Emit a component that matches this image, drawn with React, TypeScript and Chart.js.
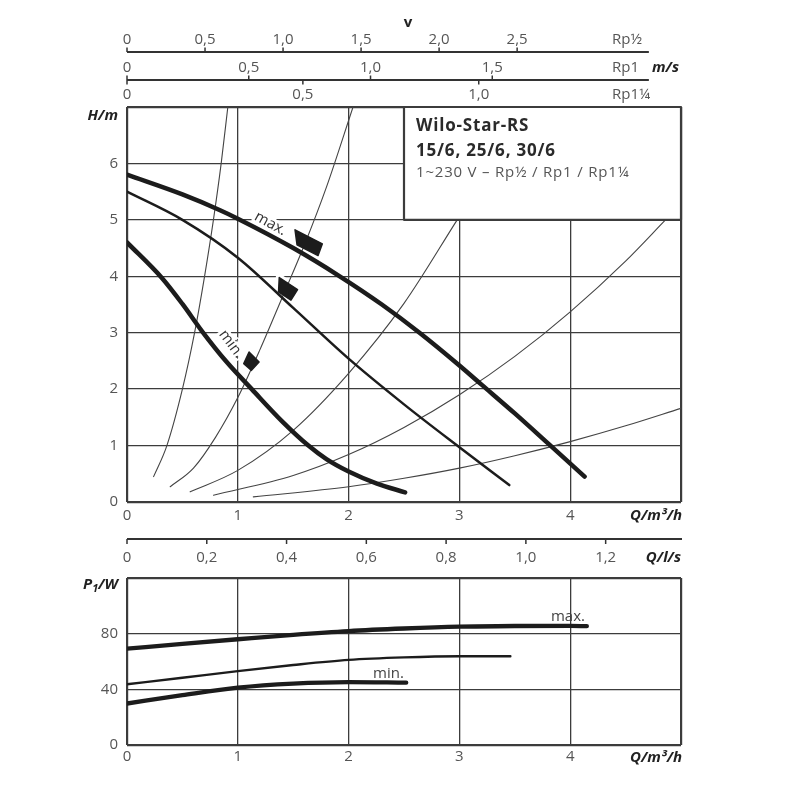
import { useEffect, useRef } from 'react';
import { Chart, registerables } from 'chart.js';

Chart.register(...registerables);

const FONT = '"Open Sans", "Noto Sans", "DejaVu Sans", sans-serif';

// ---------- axes / ticks ----------
const flowGrid = [0, 1, 2, 3, 4, 5];
const flowLabels = [0, 1, 2, 3, 4];
const headGrid = [0, 1, 2, 3, 4, 5, 6, 7];
const headLabels = [0, 1, 2, 3, 4, 5, 6];
const powerGrid = [0, 40, 80, 120];
const powerLabels = [0, 40, 80];

const pipeNames = ['Rp½', 'Rp1', 'Rp1¼'];
const velocityPerFlow = [0.71, 0.455, 0.315]; // m/s per m³/h
const velTicksRp12 = [0, 0.5, 1.0, 1.5, 2.0, 2.5];
const velTicksRp1 = [0, 0.5, 1.0, 1.5];
const velTicksRp114 = [0, 0.5, 1.0];
const velocityRulerEndFlow = 4.71;
const litresPerSecondTicks = [0, 0.2, 0.4, 0.6, 0.8, 1.0, 1.2];
const m3hPerLs = 3.6;

// ---------- H(Q) pump curves [Q m³/h, H m] ----------
const headMaxCurve = [[0, 5.8], [0.5, 5.45], [0.84, 5.17], [1.0, 5.02], [1.5, 4.5], [1.92, 4.0], [2.3, 3.5], [2.64, 3.0], [3.0, 2.42], [3.2, 2.08], [3.5, 1.57], [3.81, 1.02], [4.13, 0.45]];
const headMidCurve = [[0, 5.5], [0.5, 5.0], [1.0, 4.33], [1.5, 3.44], [2.0, 2.54], [2.5, 1.73], [3.0, 0.97], [3.45, 0.3]];
const headMinCurve = [[0, 4.6], [0.315, 3.97], [0.5, 3.51], [0.676, 3.03], [0.9, 2.48], [1.126, 2.0], [1.4, 1.43], [1.637, 1.0], [1.8, 0.76], [2.0, 0.54], [2.25, 0.33], [2.51, 0.17]];

// ---------- system curves ----------
const systemCurve1 = [[0.24, 0.45], [0.36, 1.0], [0.5, 2.0], [0.61, 3.0], [0.7, 4.0], [0.78, 5.0], [0.85, 6.0], [0.91, 7.0]];
const systemCurve2 = [[0.39, 0.27], [0.6, 0.6], [0.8, 1.15], [1.0, 1.85], [1.2, 2.7], [1.4, 3.62], [1.6, 4.55], [1.8, 5.58], [2.04, 7.0]];
const systemCurve3 = [[0.57, 0.18], [1.0, 0.56], [1.5, 1.27], [2.0, 2.28], [2.5, 3.52], [2.98, 5.0]];
const systemCurve4 = [[0.78, 0.12], [1.5, 0.47], [2.0, 0.84], [2.5, 1.32], [3.0, 1.9], [3.5, 2.58], [4.0, 3.37], [4.5, 4.27], [4.86, 5.0]];
const systemCurve5 = [[1.14, 0.09], [2.0, 0.27], [2.5, 0.42], [3.0, 0.6], [3.5, 0.82], [4.0, 1.07], [4.5, 1.35], [5.0, 1.66]];

// speed markers [Q, H]
const speedMarkers = [[1.634, 4.58], [1.44, 3.76], [1.117, 2.48]];
const headCurveNames = [
  { text: 'max.', q: 1.295, h: 4.93, angle: 29 },
  { text: 'min.', q: 0.94, h: 2.8, angle: 53 },
];

// title box
const titleLines = ['Wilo-Star-RS', '15/6, 25/6, 30/6', '1~230 V – Rp½ / Rp1 / Rp1¼'];
const titleBoxFrom = [2.5, 5]; // Q, H of the lower-left corner

// ---------- P1(Q) [Q m³/h, P W] ----------
const powerMaxCurve = [[0, 69.2], [0.5, 72.7], [1, 76], [1.5, 79.2], [2, 81.9], [2.5, 83.7], [3, 85], [3.5, 85.5], [4, 85.6], [4.15, 85.4]];
const powerMidCurve = [[0, 43.6], [0.5, 48.3], [1, 53.1], [1.5, 57.5], [2, 61.2], [2.5, 63], [3, 63.8], [3.46, 63.8]];
const powerMinCurve = [[0, 29.8], [0.5, 35.8], [1, 41.2], [1.5, 44.1], [2, 45.2], [2.52, 44.8]];
const powerCurveNames = [
  { text: 'max.', q: 3.98, p: 92.4 },
  { text: 'min.', q: 2.36, p: 51.2 },
];

// ---------- styles ----------
const INK = '#1c1c1c';
const GRID = '#3c3c3c';
const TICK_COLOR = '#555';
const TITLE_COLOR = '#222';
const markerShapes = [
  [[-13, -13.7], [14.3, 0.3], [10, 12], [-11, 1.3]],
  [[-7.3, -12.3], [11, -0.3], [4.4, 10.4], [-8, 2.1]],
  [[-1.7, -10], [8.3, 0], [0.7, 8.3], [-7, 1.6]],
];

const toPts = (arr: number[][]) => arr.map(([x, y]) => ({ x, y }));
const fmt = (v: number) => (v === 0 ? '0' : v.toFixed(1).replace('.', ','));

function xAxis(height: number, padding: number) {
  return {
    type: 'linear',
    min: 0,
    max: 5,
    position: 'bottom',
    afterBuildTicks: (s: any) => {
      s.ticks = flowGrid.map((v) => ({ value: v }));
    },
    afterFit: (s: any) => {
      s.height = height;
    },
    ticks: {
      autoSkip: false,
      maxRotation: 0,
      padding,
      color: TICK_COLOR,
      font: { family: FONT, size: 15 },
      callback: (v: number) => (flowLabels.includes(v) ? String(v) : ''),
    },
    grid: {
      drawTicks: false,
      color: GRID,
      lineWidth: (c: any) => (c.tick && (c.tick.value === 0 || c.tick.value === 5) ? 2.2 : 1.3),
    },
    border: { display: false },
  };
}

function yAxis(grid: number[], labels: number[], width: number) {
  const top = grid[grid.length - 1];
  return {
    type: 'linear',
    min: 0,
    max: top,
    position: 'left',
    afterBuildTicks: (s: any) => {
      s.ticks = grid.map((v) => ({ value: v }));
    },
    afterFit: (s: any) => {
      s.width = width;
    },
    ticks: {
      autoSkip: false,
      padding: 9,
      color: TICK_COLOR,
      font: { family: FONT, size: 15 },
      callback: (v: number) => (labels.includes(v) ? String(v) : ''),
    },
    grid: {
      drawTicks: false,
      color: GRID,
      lineWidth: (c: any) => (c.tick && (c.tick.value === 0 || c.tick.value === top) ? 2.2 : 1.3),
    },
    border: { display: false },
  };
}

function line(data: number[][], width: number, color = INK) {
  return {
    data: toPts(data),
    borderColor: color,
    borderWidth: width,
    pointRadius: 0,
    fill: false,
    cubicInterpolationMode: 'monotone',
    borderCapStyle: 'round',
    borderJoinStyle: 'round',
  };
}

function drawText(ctx: CanvasRenderingContext2D, text: string, x: number, y: number, font: string, color: string, align: CanvasTextAlign = 'left', spacing = 0) {
  ctx.font = font;
  ctx.fillStyle = color;
  ctx.textAlign = align;
  ctx.textBaseline = 'middle';
  (ctx as any).letterSpacing = `${spacing}px`;
  ctx.fillText(text, x, y);
  (ctx as any).letterSpacing = '0px';
}

const topDecor = {
  id: 'topDecor',
  beforeDatasetsDraw(chart: any) {
    const { ctx, scales } = chart;
    const { x, y } = scales;
    ctx.save();
    for (const l of headCurveNames) {
      ctx.save();
      ctx.translate(x.getPixelForValue(l.q), y.getPixelForValue(l.h));
      ctx.rotate((l.angle * Math.PI) / 180);
      ctx.font = `15px ${FONT}`;
      ctx.textAlign = 'center';
      ctx.textBaseline = 'middle';
      ctx.lineWidth = 6;
      ctx.strokeStyle = '#fff';
      ctx.lineJoin = 'round';
      ctx.strokeText(l.text, 0, 0);
      ctx.fillStyle = '#333';
      ctx.fillText(l.text, 0, 0);
      ctx.restore();
    }
    speedMarkers.forEach(([q, h], i) => {
      const cx = x.getPixelForValue(q);
      const cy = y.getPixelForValue(h);
      ctx.beginPath();
      markerShapes[i].forEach(([dx, dy], k) => (k ? ctx.lineTo(cx + dx, cy + dy) : ctx.moveTo(cx + dx, cy + dy)));
      ctx.closePath();
      ctx.lineWidth = 7;
      ctx.strokeStyle = '#fff';
      ctx.lineJoin = 'round';
      ctx.stroke();
    });
    ctx.restore();
  },
  afterDatasetsDraw(chart: any) {
    const { ctx, scales, chartArea } = chart;
    const { x, y } = scales;
    ctx.save();
    speedMarkers.forEach(([q, h], i) => {
      const cx = x.getPixelForValue(q);
      const cy = y.getPixelForValue(h);
      ctx.beginPath();
      markerShapes[i].forEach(([dx, dy], k) => (k ? ctx.lineTo(cx + dx, cy + dy) : ctx.moveTo(cx + dx, cy + dy)));
      ctx.closePath();
      ctx.fillStyle = INK;
      ctx.lineJoin = 'round';
      ctx.lineWidth = 1.5;
      ctx.strokeStyle = INK;
      ctx.fill();
      ctx.stroke();
    });
    const bl = x.getPixelForValue(titleBoxFrom[0]);
    const bb = y.getPixelForValue(titleBoxFrom[1]);
    const br = chartArea.right;
    const bt = chartArea.top;
    ctx.fillStyle = '#fff';
    ctx.fillRect(bl, bt, br - bl, bb - bt);
    ctx.lineWidth = 2.2;
    ctx.strokeStyle = GRID;
    ctx.strokeRect(bl, bt, br - bl, bb - bt);
    drawText(ctx, titleLines[0], bl + 12, bt + 19, `bold 17px ${FONT}`, '#2a2a2a', 'left', 0.8);
    drawText(ctx, titleLines[1], bl + 12, bt + 44, `bold 17px ${FONT}`, '#2a2a2a', 'left', 0.8);
    drawText(ctx, titleLines[2], bl + 12, bt + 66, `15px ${FONT}`, '#555', 'left', 0.8);
    ctx.restore();
  },
  afterDraw(chart: any) {
    const { ctx, scales, chartArea } = chart;
    const { x } = scales;
    ctx.save();
    const lineEnd = x.getPixelForValue(velocityRulerEndFlow);
    const rowY = [52, 80, chartArea.top];
    const rows = [
      { s: scales.v1, ticks: velTicksRp12 },
      { s: scales.v2, ticks: velTicksRp1 },
      { s: scales.v3, ticks: velTicksRp114 },
    ];
    ctx.strokeStyle = '#333';
    rows.forEach((r, i) => {
      const ly = rowY[i];
      if (i < 2) {
        ctx.lineWidth = 2;
        ctx.beginPath();
        ctx.moveTo(r.s.getPixelForValue(0), ly);
        ctx.lineTo(lineEnd, ly);
        ctx.stroke();
      }
      ctx.lineWidth = 1.5;
      r.ticks.forEach((v) => {
        const px = r.s.getPixelForValue(v);
        ctx.beginPath();
        if (i < 2) {
          ctx.moveTo(px, ly);
          ctx.lineTo(px, ly - 4.5);
        } else {
          ctx.moveTo(px, rowY[1]);
          ctx.lineTo(px, rowY[1] + 4.5);
        }
        ctx.stroke();
        drawText(ctx, fmt(v), px, ly - 12.5, `15px ${FONT}`, TICK_COLOR, 'center');
      });
      drawText(ctx, pipeNames[i], 612, ly - 12.5, `15px ${FONT}`, TICK_COLOR, 'left');
    });
    drawText(ctx, 'v', 408, 23, `bold 15px ${FONT}`, TITLE_COLOR, 'center');
    drawText(ctx, 'm/s', 652, 67.5, `italic bold 15px ${FONT}`, TITLE_COLOR, 'left');

    const ql = scales.ql;
    const qy = 539;
    ctx.lineWidth = 2;
    ctx.beginPath();
    ctx.moveTo(ql.getPixelForValue(0), qy);
    ctx.lineTo(chartArea.right + 1, qy);
    ctx.stroke();
    ctx.lineWidth = 1.5;
    litresPerSecondTicks.forEach((v) => {
      const px = ql.getPixelForValue(v);
      ctx.beginPath();
      ctx.moveTo(px, qy);
      ctx.lineTo(px, qy + 5);
      ctx.stroke();
      drawText(ctx, fmt(v), px, qy + 19, `15px ${FONT}`, TICK_COLOR, 'center');
    });
    drawText(ctx, 'Q/l/s', chartArea.right, qy + 19, `italic bold 15px ${FONT}`, TITLE_COLOR, 'right');
    drawText(ctx, 'Q/m³/h', chartArea.right + 1, 516, `italic bold 15px ${FONT}`, TITLE_COLOR, 'right');
    drawText(ctx, 'H/m', 118, 116, `italic bold 15px ${FONT}`, TITLE_COLOR, 'right');
    ctx.restore();
  },
};

const bottomDecor = {
  id: 'bottomDecor',
  afterDraw(chart: any) {
    const { ctx, scales, chartArea } = chart;
    const { x, y } = scales;
    ctx.save();
    for (const l of powerCurveNames) {
      drawText(ctx, l.text, x.getPixelForValue(l.q), y.getPixelForValue(l.p), `15px ${FONT}`, '#444', 'center');
    }
    drawText(ctx, 'Q/m³/h', chartArea.right + 1, 198, `italic bold 15px ${FONT}`, TITLE_COLOR, 'right');
    const big = `italic bold 15px ${FONT}`;
    const small = `italic bold 11px ${FONT}`;
    ctx.font = big;
    const wP = ctx.measureText('P').width;
    const wW = ctx.measureText('/W').width;
    ctx.font = small;
    const w1 = ctx.measureText('1').width;
    const right = 118;
    const start = right - (wP + w1 + wW);
    const ly = 25;
    drawText(ctx, 'P', start, ly, big, TITLE_COLOR, 'left');
    drawText(ctx, '1', start + wP, ly + 4, small, TITLE_COLOR, 'left');
    drawText(ctx, '/W', start + wP + w1, ly, big, TITLE_COLOR, 'left');
    ctx.restore();
  },
};

export default function App() {
  const topRef = useRef<HTMLCanvasElement>(null);
  const botRef = useRef<HTMLCanvasElement>(null);

  useEffect(() => {
    const top = new Chart(topRef.current as HTMLCanvasElement, {
      type: 'line',
      data: {
        datasets: [
          line(headMaxCurve, 4.5),
          line(headMidCurve, 2.5),
          line(headMinCurve, 4.5),
          line(systemCurve1, 1.1, '#444'),
          line(systemCurve2, 1.1, '#444'),
          line(systemCurve3, 1.1, '#444'),
          line(systemCurve4, 1.1, '#444'),
          line(systemCurve5, 1.1, '#444'),
        ] as any,
      },
      options: {
        animation: false,
        responsive: false,
        maintainAspectRatio: false,
        events: [],
        layout: { padding: { left: 0, right: 119, top: 107, bottom: 33 } },
        plugins: { legend: { display: false }, tooltip: { enabled: false } },
        scales: {
          x: xAxis(30, 5),
          y: yAxis(headGrid, headLabels, 127),
          v1: { type: 'linear', display: false, min: 0, max: 5 * velocityPerFlow[0], position: 'top' },
          v2: { type: 'linear', display: false, min: 0, max: 5 * velocityPerFlow[1], position: 'top' },
          v3: { type: 'linear', display: false, min: 0, max: 5 * velocityPerFlow[2], position: 'top' },
          ql: { type: 'linear', display: false, min: 0, max: 5 / m3hPerLs, position: 'top' },
        } as any,
      },
      plugins: [topDecor],
    } as any);

    const bottom = new Chart(botRef.current as HTMLCanvasElement, {
      type: 'line',
      data: {
        datasets: [
          line(powerMaxCurve, 4.3),
          line(powerMidCurve, 2.4),
          line(powerMinCurve, 4.3),
        ] as any,
      },
      options: {
        animation: false,
        responsive: false,
        maintainAspectRatio: false,
        events: [],
        layout: { padding: { left: 0, right: 119, top: 17, bottom: 25 } },
        plugins: { legend: { display: false }, tooltip: { enabled: false } },
        scales: {
          x: xAxis(30, 3),
          y: yAxis(powerGrid, powerLabels, 127),
        } as any,
      },
      plugins: [bottomDecor],
    } as any);

    return () => {
      top.destroy();
      bottom.destroy();
    };
  }, []);

  return (
    <div style={{ position: 'fixed', left: 0, top: 0, width: 800, height: 800, background: '#fff' }}>
      <canvas ref={topRef} width={800} height={565} style={{ position: 'absolute', left: 0, top: 0, width: 800, height: 565 }} />
      <canvas ref={botRef} width={800} height={240} style={{ position: 'absolute', left: 0, top: 560, width: 800, height: 240 }} />
    </div>
  );
}
